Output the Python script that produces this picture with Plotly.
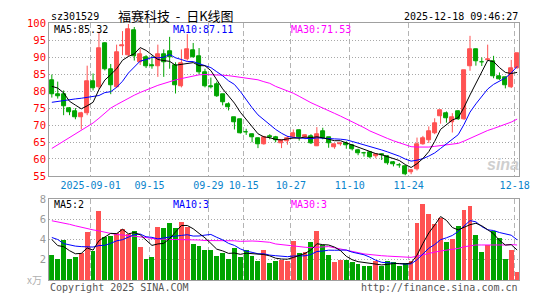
import plotly.graph_objects as go

# ---------------- data ----------------
opens = [83.3, 79.1, 79.2, 74.8, 74.1, 72.3, 73.4, 82.8, 81.1, 94.2,
         86.4, 81.1, 93.2, 90.6, 97.9, 88.5, 89.9, 87.7, 87.4, 91.0,
         91.8, 87.7, 81.4, 89.4, 92.0, 90.2, 85.7, 81.3, 82.1, 79.1,
         76.2, 72.3, 71.7, 68.0, 67.3, 66.0, 64.4, 66.6, 66.5, 64.6,
         65.1, 66.3, 68.5, 66.3, 66.8, 63.8, 68.1, 66.3, 63.5, 64.2,
         64.7, 64.0, 62.7, 61.7, 61.9, 60.7, 61.3, 60.8, 59.0, 58.2,
         57.8, 56.1, 56.9, 64.4, 65.4, 67.5, 72.5, 73.5, 70.7, 74.2,
         71.7, 87.4, 92.3, 88.6, 89.2, 88.8, 84.5, 84.2, 81.1, 86.8]
highs = [84.9, 82.8, 80.2, 75.3, 75.0, 73.9, 87.5, 85.2, 97.5, 94.4,
         88.0, 93.7, 97.7, 99.8, 98.9, 92.5, 90.6, 90.4, 93.7, 92.3,
         96.0, 88.5, 92.3, 96.8, 94.2, 92.7, 86.6, 84.0, 82.8, 79.1,
         76.7, 72.3, 71.7, 68.9, 67.5, 66.3, 66.8, 67.3, 66.8, 65.6,
         66.8, 68.7, 68.7, 67.3, 67.3, 69.4, 69.2, 66.3, 64.4, 64.9,
         65.2, 64.4, 63.0, 62.1, 62.1, 61.6, 61.6, 61.1, 59.4, 58.8,
         58.1, 57.0, 66.3, 66.8, 69.6, 72.0, 74.5, 74.0, 73.5, 74.3,
         86.2, 96.3, 92.5, 89.9, 93.7, 90.4, 85.5, 84.2, 89.2, 91.1]
lows = [78.1, 77.8, 72.9, 72.9, 71.7, 68.7, 72.9, 80.2, 80.5, 86.1,
        79.1, 80.9, 90.6, 90.2, 89.0, 87.7, 86.8, 86.6, 84.2, 84.2,
        86.6, 79.3, 81.1, 89.0, 89.9, 84.9, 81.1, 80.8, 78.3, 75.8,
        74.3, 68.7, 67.5, 67.1, 64.9, 63.2, 64.2, 65.8, 64.9, 63.2,
        64.2, 66.0, 65.4, 65.8, 64.4, 63.8, 65.8, 63.3, 63.0, 63.9,
        63.0, 62.5, 61.1, 60.7, 60.2, 60.2, 59.7, 58.3, 57.8, 57.4,
        55.2, 55.5, 56.6, 64.2, 64.7, 67.3, 70.4, 70.7, 67.8, 71.5,
        71.5, 86.0, 87.5, 87.4, 89.1, 83.8, 83.3, 80.8, 80.9, 86.6]
closes = [79.1, 78.6, 75.5, 73.9, 72.3, 73.6, 83.0, 80.8, 92.5, 86.4,
          81.7, 91.5, 93.4, 98.1, 90.2, 91.0, 87.3, 87.4, 90.8, 88.5,
          89.9, 81.6, 88.3, 92.3, 89.9, 85.5, 81.4, 81.1, 78.6, 76.7,
          75.1, 70.8, 67.7, 67.9, 66.3, 64.4, 66.3, 66.4, 65.4, 65.5,
          66.0, 67.5, 66.3, 67.0, 64.6, 67.3, 66.0, 64.6, 64.4, 64.6,
          64.0, 62.8, 61.6, 61.6, 60.5, 61.4, 61.1, 58.8, 58.3, 58.1,
          55.5, 56.7, 64.4, 66.0, 68.2, 70.6, 74.4, 71.9, 72.3, 71.6,
          86.2, 92.4, 88.8, 88.5, 89.4, 84.4, 83.6, 81.7, 86.8, 91.1]
volumes = [2.5, 2.12, 3.92, 2.12, 2.31, 2.69, 4.78, 2.88, 6.77, 4.24,
           4.37, 4.62, 5.06, 4.53, 4.87, 3.26, 2.12, 2.31, 5.25, 5.16,
           5.63, 5.16, 5.73, 5.25, 3.54, 3.35, 2.97, 2.97, 2.41, 2.69,
           2.12, 3.16, 2.31, 2.97, 2.41, 1.93, 2.97, 1.65, 1.84, 1.99,
           1.84, 3.83, 2.69, 2.78, 3.73, 4.87, 3.42, 2.5, 1.74, 2.03,
           2.03, 1.74, 1.55, 1.36, 1.36, 1.84, 1.36, 1.84, 1.74, 1.36,
           1.65, 1.9, 5.63, 7.53, 6.52, 5.54, 6.11, 3.73, 4.02, 5.35,
           6.87, 7.34, 4.43, 2.78, 3.42, 4.84, 4.11, 2.12, 2.97, 0.79]

# moving-average values before enough visible history exists
ma5_seed = [81.4, 80.9, 79.5, 77.0]
ma10_seed = [76.7, 77.0, 77.3, 77.5, 77.7, 77.9, 78.1, 78.4, 78.7]
ma30_seed = [63.1, 64.2, 65.3, 66.4, 67.4, 68.5, 69.5, 70.6, 72.0, 73.4,
             75.0, 76.0, 77.0, 78.0, 78.8, 79.6, 80.4, 81.0, 81.7, 82.3,
             82.9, 83.3, 83.7, 84.1, 84.5, 84.8, 84.9, 84.9, 84.7]
vma5_seed = [4.0, 3.4, 3.3, 2.9]
vma10_seed = [4.2, 4.0, 3.6, 3.45, 3.35, 3.3, 3.26, 3.26, 3.4]
vma30_seed = [5.85, 5.75, 5.65, 5.5, 5.35, 5.2, 5.05, 4.95, 4.85, 4.7,
              4.6, 4.5, 4.45, 4.4, 4.35, 4.3, 4.2, 4.1, 4.05, 4.05,
              4.0, 4.0, 4.0, 3.95, 3.95, 3.95, 3.9, 3.9, 3.9]

tick_idx = [7, 17, 27, 33, 41, 51, 61, 79]
tick_text = ["2025-09-01", "09-15", "09-29", "10-15", "10-27", "11-10", "11-24", "12-18"]
price_ticks = [55, 60, 65, 70, 75, 80, 85, 90, 95, 100]
vol_ticks = [2, 4, 6, 8]

title_text = "福赛科技\u00a0\u00a0-\u00a0\u00a0日K线图"
code_text = "sz301529"
time_text = "2025-12-18 09:46:27"
leg_main = ["MA5:85.32", "MA10:87.11", "MA30:71.53"]
leg_vol = ["MA5:2", "MA10:3", "MA30:3"]

# ---------------- helpers ----------------
def moving_avg(vals, n, seed):
    out = list(seed)
    for i in range(len(seed), len(vals)):
        out.append(sum(vals[i - n + 1:i + 1]) / n)
    return out

N = len(closes)
idx = list(range(N))
RED = "#ff5252"
GREEN = "#00a400"
colors = [RED if c >= o else GREEN for o, c in zip(opens, closes)]

W, H = 545, 300
px = lambda x: x / W
py = lambda y: 1 - y / H
MONO = "DejaVu Sans Mono"

fig = go.Figure()

# wicks
for col in (RED, GREEN):
    wx, wy = [], []
    for i in idx:
        if colors[i] == col:
            wx += [i, i, None]
            wy += [lows[i], highs[i], None]
    fig.add_trace(go.Scatter(x=wx, y=wy, mode="lines", line=dict(color=col, width=1),
                             hoverinfo="skip", showlegend=False, xaxis="x", yaxis="y"))

# bodies
fig.add_trace(go.Bar(x=idx, y=[abs(c - o) for o, c in zip(opens, closes)],
                     base=[min(o, c) for o, c in zip(opens, closes)],
                     width=0.68, marker=dict(color=colors, line=dict(color=colors, width=1)),
                     showlegend=False, xaxis="x", yaxis="y"))

# price MAs
for vals, col in ((moving_avg(closes, 30, ma30_seed), "#ff00ff"),
                  (moving_avg(closes, 10, ma10_seed), "#0000ff"),
                  (moving_avg(closes, 5, ma5_seed), "#000000")):
    fig.add_trace(go.Scatter(x=idx, y=vals, mode="lines", line=dict(color=col, width=1),
                             showlegend=False, xaxis="x", yaxis="y"))

# volume
fig.add_trace(go.Bar(x=idx, y=volumes, width=0.82, marker=dict(color=colors, line=dict(width=0)),
                     showlegend=False, xaxis="x2", yaxis="y2"))
for vals, col in ((moving_avg(volumes, 30, vma30_seed), "#ff00ff"),
                  (moving_avg(volumes, 10, vma10_seed), "#0000ff"),
                  (moving_avg(volumes, 5, vma5_seed), "#000000")):
    fig.add_trace(go.Scatter(x=idx, y=vals, mode="lines", line=dict(color=col, width=1),
                             showlegend=False, xaxis="x2", yaxis="y2"))

xr = [-0.467, 79.367]
grid_x = [t - 0.42 for t in tick_idx]
xdom = [px(50), px(529)]
common_x = dict(domain=xdom, range=xr, tickmode="array", tickvals=grid_x,
                showgrid=True, gridcolor="#b4b4b4", griddash="5px,3px", gridwidth=1,
                showline=True, linecolor="#a0a0a0", linewidth=1, mirror=True,
                ticks="", zeroline=False, fixedrange=True)

fig.update_layout(
    width=W, height=H, margin=dict(l=0, r=0, t=0, b=0),
    paper_bgcolor="white", plot_bgcolor="white",
    barmode="overlay", bargap=0, showlegend=False,
    xaxis=dict(common_x, anchor="y", ticktext=tick_text,
               tickfont=dict(family=MONO, size=10, color="#0a84cc")),
    yaxis=dict(domain=[py(177), py(18)], range=[55, 100], tickmode="array",
               tickvals=price_ticks, tickfont=dict(family=MONO, size=10.5, color="#ff0000"),
               showgrid=True, gridcolor="#a8a8a8", griddash="1px,2px",
               showline=True, linecolor="#a0a0a0", mirror=True, ticks="",
               zeroline=False, fixedrange=True),
    xaxis2=dict(common_x, anchor="y2", showticklabels=False),
    yaxis2=dict(domain=[py(285.5), py(201)], range=[0, 8], tickmode="array",
                tickvals=vol_ticks, tickfont=dict(family=MONO, size=10.5, color="#999999"),
                showgrid=True, gridcolor="#a8a8a8", griddash="1px,2px",
                showline=True, linecolor="#a0a0a0", mirror=True, ticks="",
                zeroline=False, fixedrange=True),
)

ann = []
def txt(x, y, s, color="#000", size=10, xanchor="left", family=MONO, **kw):
    ann.append(dict(x=px(x), y=py(y), xref="paper", yref="paper", text=s, showarrow=False,
                    xanchor=xanchor, yanchor="middle",
                    font=dict(family=family, size=size, color=color), **kw))

txt(50, 11, code_text)
txt(179, 10, title_text, size=13, xanchor="center", family="Noto Sans CJK SC")
txt(530, 11, time_text, xanchor="right")
for (s, x, c) in zip(leg_main, (53, 174, 294), ("#000000", "#0000ff", "#ff00ff")):
    txt(x, 24, s, color=c)
for (s, x, c) in zip(leg_vol, (53, 174, 294), ("#000000", "#0000ff", "#ff00ff")):
    txt(x, 207, s, color=c)
txt(45, 285, "x万", color="#b0b0b0", size=10, xanchor="right", family="Noto Sans CJK SC")
txt(49, 293, "Copyright 2025 SINA.COM", color="#555555")
txt(530, 293, "http://finance.sina.com.cn", color="#555555", xanchor="right")
txt(512, 165, "<b><i>sina</i></b>", color="#cfcfcf", size=16, xanchor="center", family="Arial")
fig.update_layout(annotations=ann)

fig.write_html("out.html")
